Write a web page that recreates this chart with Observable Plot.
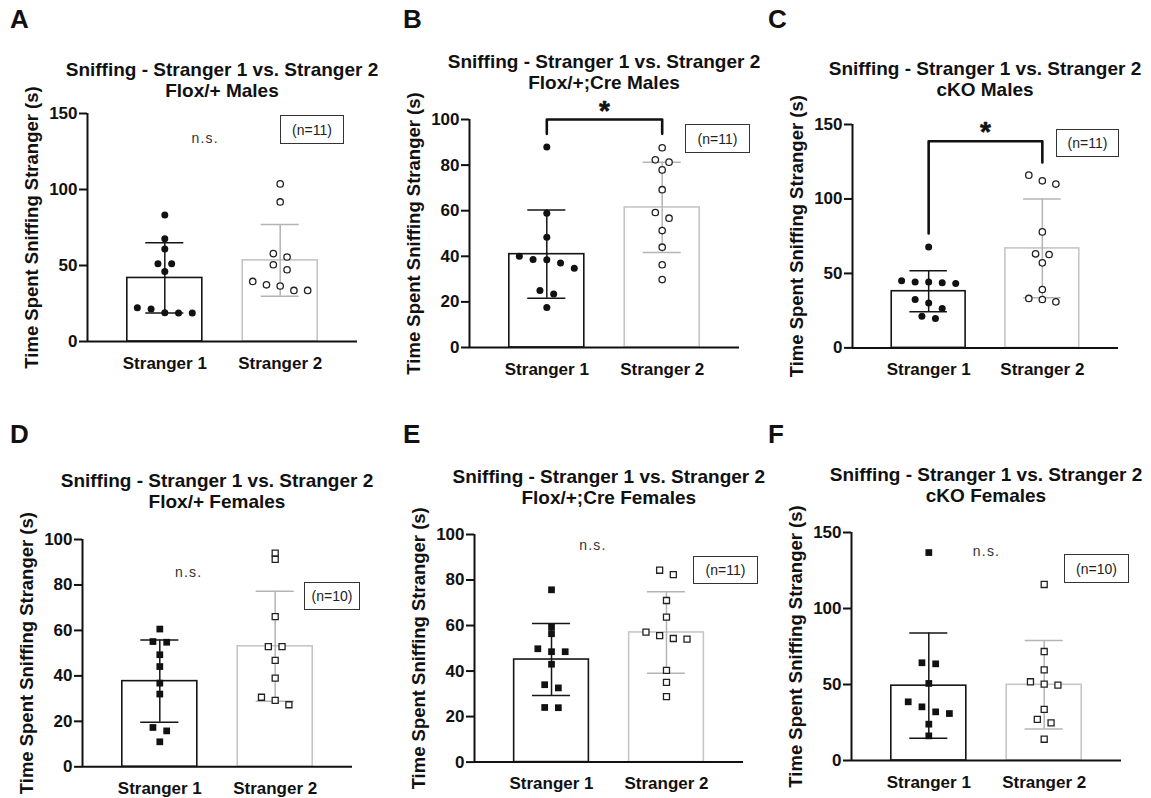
<!DOCTYPE html>
<html><head><meta charset="utf-8">
<script src="https://cdn.jsdelivr.net/npm/d3@7"></script>
<script src="https://cdn.jsdelivr.net/npm/@observablehq/plot@0.6"></script>
<style>
html,body{margin:0;padding:0;background:#fff;overflow:hidden;}
#fig{position:relative;width:1151px;height:798px;overflow:hidden;background:#fff;font-family:'Liberation Sans',Arial,sans-serif;color:#111;}
.abs{position:absolute;}
.letter{font-size:26px;font-weight:bold;line-height:26px;}
.title{font-size:19px;font-weight:bold;line-height:21px;text-align:center;white-space:nowrap;width:420px;}
.nbox{border:1.5px solid #333;box-sizing:border-box;font-size:14px;display:flex;align-items:center;justify-content:center;background:#fff;color:#222;}
svg{overflow:visible;}
</style></head><body><div id="fig"></div>
<script>
// ---------- data ----------
const categories = ["Stranger 1", "Stranger 2"];
const panelLetters = ["A", "B", "C", "D", "E", "F"];
const titleLine = "Sniffing - Stranger 1 vs. Stranger 2";
const panelSubtitles = ["Flox/+ Males", "Flox/+;Cre Males", "cKO Males", "Flox/+ Females", "Flox/+;Cre Females", "cKO Females"];
const yLabel = "Time Spent Sniffing Stranger (s)";
const yMaxes = [150, 100, 150, 100, 100, 150];
const yTicksList = [
  [0, 50, 100, 150],
  [0, 20, 40, 60, 80, 100],
  [0, 50, 100, 150],
  [0, 20, 40, 60, 80, 100],
  [0, 20, 40, 60, 80, 100],
  [0, 50, 100, 150]
];
const nLabels = ["(n=11)", "(n=11)", "(n=11)", "(n=10)", "(n=11)", "(n=10)"];
const markerShapes = ["circle", "circle", "circle", "square", "square", "square"];
const stranger1Values = [
  [83.2, 67.6, 60.8, 51.2, 51.2, 46.1, 22.2, 21.3, 18.7, 18.9, 18.7],
  [87.9, 58.9, 48.4, 40.0, 38.5, 38.6, 37.1, 34.8, 25.0, 23.5, 17.5],
  [67.8, 43.7, 44.3, 43.2, 44.3, 45.0, 32.5, 30.2, 26.5, 21.3, 19.7],
  [60.6, 54.8, 55.1, 49.3, 44.1, 36.8, 32.0, 17.3, 15.8, 11.0],
  [75.7, 59.3, 56.4, 48.5, 48.5, 49.8, 43.0, 32.6, 34.0, 23.9, 24.0],
  [136.8, 63.6, 64.3, 50.7, 35.3, 38.6, 32.0, 30.9, 23.9, 16.2]
];
const stranger2Values = [
  [103.7, 91.8, 57.8, 55.6, 50.5, 47.2, 39.5, 37.3, 36.5, 33.6, 33.6],
  [87.6, 81.3, 82.3, 77.9, 69.2, 59.2, 56.7, 51.3, 44.0, 36.3, 29.8],
  [116.0, 110.0, 112.2, 77.9, 62.7, 63.1, 57.1, 39.2, 30.9, 33.2, 32.5],
  [94.0, 91.3, 66.1, 52.9, 52.9, 46.8, 39.0, 30.6, 27.3, 29.2],
  [82.4, 84.3, 71.0, 63.7, 57.1, 55.6, 54.3, 54.0, 40.3, 35.0, 28.8],
  [115.8, 71.7, 59.6, 51.8, 49.6, 50.2, 33.6, 27.0, 24.8, 14.0]
];
const significance = ["n.s.", "*", "*", "n.s.", "n.s.", "n.s."];
// annotation anchor in data units (x in category index units, y in seconds)
const sigX = [1.35, 1.5, 1.5, 1.25, 1.36, 1.5];
const sigY = [133.6, 103.7, 145, 85.5, 95.0, 137.3];
// brackets: [top, left end, right end] in seconds
const brackets = [null, [100, 93.7, 93.7], [138.8, 76.8, 124.5], null, null, null];

// ---------- layout ----------
const frames = [
  {x0: 87, x1: 357, yTop: 113, y0: 341, t: 76, letter: [10, 6], nbox: [280, 115, 64, 29]},
  {x0: 469, x1: 739, yTop: 119, y0: 347, t: 68.3, letter: [403, 6], nbox: [685, 124, 65, 29]},
  {x0: 852, x1: 1118, yTop: 124.3, y0: 347.7, t: 75, letter: [768, 6], nbox: [1056, 129, 63, 28]},
  {x0: 82, x1: 352, yTop: 539, y0: 766.3, t: 487.3, letter: [10, 421], nbox: [304, 582, 56, 28]},
  {x0: 474.3, x1: 743.3, yTop: 533.7, y0: 761.3, t: 483.3, letter: [403, 421], nbox: [693, 556, 65, 28]},
  {x0: 851, x1: 1121, yTop: 531.7, y0: 759.7, t: 481, letter: [768, 421], nbox: [1064, 554, 65, 29]}
];
const ML = 80, MR = 20, MT = 45, MB = 45;
const xDomain = [0.33, 2.67];
const BAR_HALF = 0.325, CAP_HALF = 0.165, STEP = 0.119, ROW_PX = 6;
const FONT = "'Liberation Sans', Arial, sans-serif";

function dodge(values, groupIndex, pxPerUnit) {
  const sorted = values.slice().sort((a, b) => b - a);
  const clusters = [];
  let cur = [];
  for (const v of sorted) {
    if (cur.length && (cur[cur.length - 1] - v) * pxPerUnit >= ROW_PX) { clusters.push(cur); cur = []; }
    cur.push(v);
  }
  if (cur.length) clusters.push(cur);
  const out = [];
  for (const c of clusters) c.forEach((v, k) => out.push({x: groupIndex + (k - (c.length - 1) / 2) * STEP, v}));
  return out;
}

const fig = document.getElementById("fig");

panelLetters.forEach((letter, p) => {
  const F = frames[p];
  const W = F.x1 - F.x0 + ML + MR;
  const H = F.y0 - F.yTop + MT + MB;
  const pxPerUnit = (F.y0 - F.yTop) / yMaxes[p];
  const pts1 = dodge(stranger1Values[p], 1, pxPerUnit);
  const pts2 = dodge(stranger2Values[p], 2, pxPerUnit);
  const stats = [stranger1Values[p], stranger2Values[p]].map((v, i) => ({x: i + 1, mean: d3.mean(v), sd: d3.deviation(v)}));
  const s1 = [stats[0]], s2 = [stats[1]];
  const sym = markerShapes[p];
  const rFill = sym === "square" ? 3.8 : 3.5;
  const rOpen = sym === "square" ? 3.4 : 3.2;
  const c1 = "#151515", c2bar = "#c6c6c6", c2err = "#b4b4b4";

  const errMarks = (s, col) => [
    Plot.ruleX(s, {x: "x", y1: d => d.mean - d.sd, y2: d => d.mean + d.sd, stroke: col, strokeWidth: 1.5}),
    Plot.ruleY(s, {y: d => d.mean + d.sd, x1: d => d.x - CAP_HALF, x2: d => d.x + CAP_HALF, stroke: col, strokeWidth: 1.5}),
    Plot.ruleY(s, {y: d => d.mean - d.sd, x1: d => d.x - CAP_HALF, x2: d => d.x + CAP_HALF, stroke: col, strokeWidth: 1.5})
  ];

  const marks = [
    Plot.rect(s1, {x1: d => d.x - BAR_HALF, x2: d => d.x + BAR_HALF, y1: 0, y2: "mean", fill: "white", stroke: c1, strokeWidth: 1.6}),
    Plot.rect(s2, {x1: d => d.x - BAR_HALF, x2: d => d.x + BAR_HALF, y1: 0, y2: "mean", fill: "white", stroke: c2bar, strokeWidth: 1.6}),
    ...errMarks(s1, c1),
    ...errMarks(s2, c2err),
    Plot.dot(pts1, {x: "x", y: "v", r: rFill, symbol: sym, fill: "#111", stroke: "none"}),
    Plot.dot(pts2, {x: "x", y: "v", r: rOpen, symbol: sym, fill: "white", stroke: "#222", strokeWidth: 1.3}),
    Plot.ruleY([0], {stroke: "#111", strokeWidth: 2}),
    Plot.ruleX([xDomain[0]], {stroke: "#111", strokeWidth: 2}),
    Plot.axisY({ticks: yTicksList[p], tickFormat: d3.format("d"), tickSize: 8, tickPadding: 2, stroke: "#111", strokeWidth: 2, fontSize: 17, fontWeight: "bold", label: null}),
    Plot.axisX({ticks: [1, 2], tickFormat: d => categories[d - 1], tickSize: 0, tickPadding: 15, fontSize: 17, fontWeight: "bold", label: null}),
    Plot.text([yLabel], {text: d => d, frameAnchor: "left", textAnchor: "middle", lineAnchor: "middle", dx: -55, rotate: -90, fontSize: 18.5, fontWeight: "bold", fill: "#111"})
  ];
  const sig = significance[p];
  if (sig === "*") {
    marks.push(Plot.text([sig], {text: d => d, x: sigX[p], y: sigY[p], fontSize: 28, fontWeight: "bold", fill: "#111", stroke: "#111", strokeWidth: 0.6}));
  } else {
    marks.push(Plot.text([sig], {text: d => d, x: sigX[p], y: sigY[p], fontSize: 14, fill: "#333"}));
  }
  const b = brackets[p];
  if (b) {
    const path = [{x: 1, y: b[1]}, {x: 1, y: b[0]}, {x: 2, y: b[0]}, {x: 2, y: b[2]}];
    marks.push(Plot.line(path, {x: "x", y: "y", stroke: "#111", strokeWidth: 2.6, curve: "linear"}));
  }

  const chart = Plot.plot({
    width: W, height: H,
    marginLeft: ML, marginRight: MR, marginTop: MT, marginBottom: MB,
    x: {domain: xDomain},
    y: {domain: [0, yMaxes[p]]},
    style: {fontFamily: FONT, background: "transparent", color: "#111", overflow: "visible"},
    marks
  });
  // widen letter spacing of the "n.s." annotation like the original
  chart.querySelectorAll("text").forEach(el => { if (el.textContent === "n.s.") el.style.letterSpacing = "1.2px"; });
  chart.classList.add("abs");
  chart.style.left = (F.x0 - ML) + "px";
  chart.style.top = (F.yTop - MT) + "px";
  fig.appendChild(chart);

  const t = document.createElement("div");
  t.className = "abs title";
  t.style.left = ((F.x0 + F.x1) / 2 - 210) + "px";
  t.style.top = (F.t - 17.1) + "px";
  t.innerHTML = titleLine + "<br>" + panelSubtitles[p];
  fig.appendChild(t);

  const l = document.createElement("div");
  l.className = "abs letter";
  l.style.left = F.letter[0] + "px";
  l.style.top = F.letter[1] + "px";
  l.textContent = letter;
  fig.appendChild(l);

  const n = document.createElement("div");
  n.className = "abs nbox";
  n.style.left = F.nbox[0] + "px";
  n.style.top = F.nbox[1] + "px";
  n.style.width = F.nbox[2] + "px";
  n.style.height = F.nbox[3] + "px";
  n.textContent = nLabels[p];
  fig.appendChild(n);
});
</script></body></html>
